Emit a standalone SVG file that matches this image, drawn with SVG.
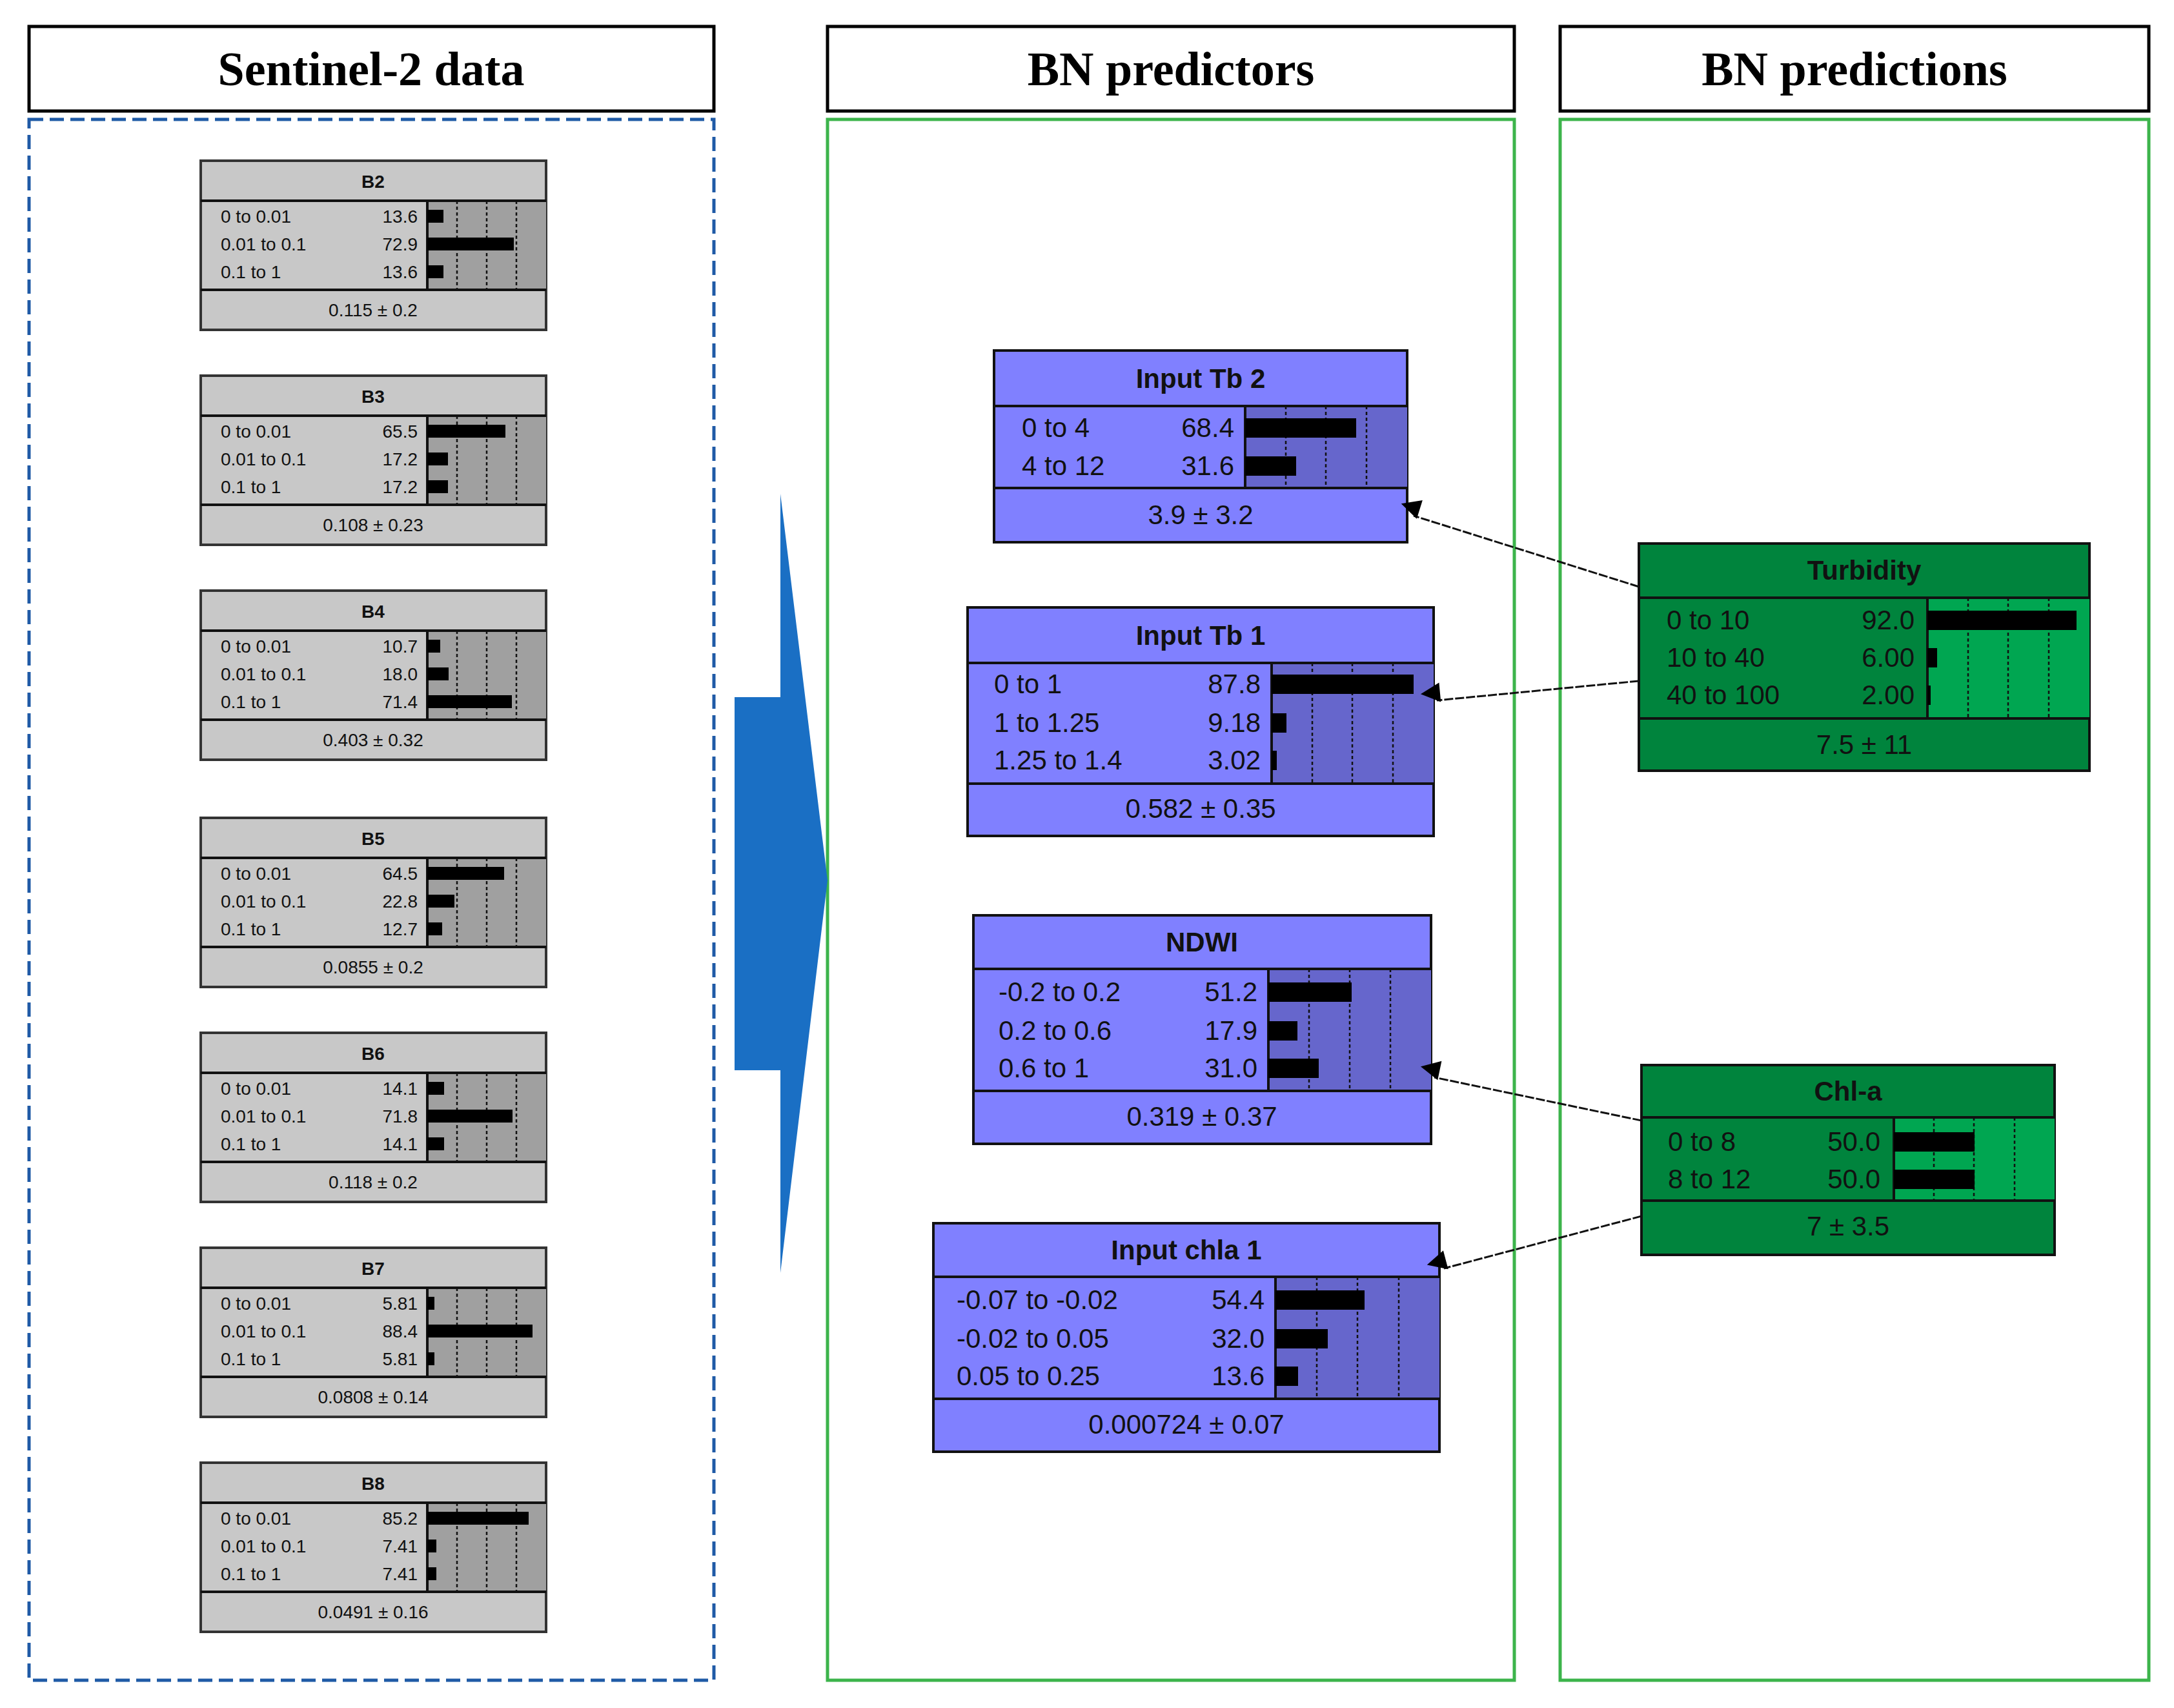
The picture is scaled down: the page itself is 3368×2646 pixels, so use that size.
<svg xmlns="http://www.w3.org/2000/svg" width="3368" height="2646" viewBox="0 0 3368 2646">
<defs>
<style>
.hdr{fill:#fff;stroke:#000;stroke-width:5}
.ht{font-family:"Liberation Serif",serif;font-weight:bold;font-size:74px;text-anchor:middle}
.g{fill:#c8c8c8;stroke:#333;stroke-width:4}
.gb{fill:#a0a0a0}
.p{fill:#8080ff;stroke:#111;stroke-width:4}
.pb{fill:#6666cc}
.gr{fill:#00843d;stroke:#111;stroke-width:4}
.grb{fill:#00a651}
.sep{stroke:#111;stroke-width:4}
.dl{stroke:#111;stroke-width:2.5;stroke-dasharray:5,4}
.t{font-family:"Liberation Sans",Arial,sans-serif;fill:#111}
.s{font-size:28px}
.m{font-size:42px}
.tb{font-weight:bold;text-anchor:middle}
.r{text-anchor:end}
.c{text-anchor:middle}
.bar{fill:#000}
.edge{stroke:#111;stroke-width:3;stroke-dasharray:14,3;fill:none;marker-end:url(#ah)}
</style>
<marker id="ah" viewBox="0 0 10 10" refX="10" refY="5" markerWidth="8" markerHeight="6" orient="auto" markerUnits="userSpaceOnUse" style="overflow:visible"><path d="M0,0 L10,5 L0,10 z" fill="#000" transform="scale(5)"/></marker>
</defs>
<rect width="3368" height="2646" fill="#fff"/>

<g id="headers">
<rect class="hdr" x="45" y="41" width="1061" height="131"/>
<text class="ht" x="575" y="132">Sentinel-2 data</text>
<rect class="hdr" x="1282" y="41" width="1064" height="131"/>
<text class="ht" x="1814" y="132">BN predictors</text>
<rect class="hdr" x="2417" y="41" width="912" height="131"/>
<text class="ht" x="2873" y="132">BN predictions</text>
</g>
<g id="panels">
<rect x="45" y="185" width="1061" height="2418" fill="none" stroke="#1f5aa6" stroke-width="5" stroke-dasharray="22,10"/>
<rect x="1282" y="185" width="1064" height="2418" fill="none" stroke="#3cb44b" stroke-width="5"/>
<rect x="2417" y="185" width="912" height="2418" fill="none" stroke="#3cb44b" stroke-width="5"/>
</g>
<g id="bigarrow"><polygon points="1138,1080 1209,1080 1209,765 1282,1364 1209,1972 1209,1658 1138,1658" fill="#1a6fc4"/></g>

<g id="B2" transform="translate(311,249)">
<rect class="g" width="535" height="262"/><rect class="gb" x="351" y="62" width="184" height="138"/>
<line class="dl" x1="397" y1="62" x2="397" y2="200"/><line class="dl" x1="443" y1="62" x2="443" y2="200"/><line class="dl" x1="489" y1="62" x2="489" y2="200"/>
<line class="sep" x1="0" y1="62" x2="535" y2="62"/><line class="sep" x1="0" y1="200" x2="535" y2="200"/><line class="sep" x1="351" y1="62" x2="351" y2="200"/>
<text class="t s tb" x="267" y="42">B2</text>
<text class="t s" x="31" y="96">0 to 0.01</text><text class="t s r" x="336" y="96">13.6</text><rect class="bar" x="351" y="76" width="25" height="20"/>
<text class="t s" x="31" y="139">0.01 to 0.1</text><text class="t s r" x="336" y="139">72.9</text><rect class="bar" x="351" y="119" width="134" height="20"/>
<text class="t s" x="31" y="182">0.1 to 1</text><text class="t s r" x="336" y="182">13.6</text><rect class="bar" x="351" y="162" width="25" height="20"/>
<text class="t s c" x="267" y="241">0.115 ± 0.2</text>
</g>
<g id="B3" transform="translate(311,582)">
<rect class="g" width="535" height="262"/><rect class="gb" x="351" y="62" width="184" height="138"/>
<line class="dl" x1="397" y1="62" x2="397" y2="200"/><line class="dl" x1="443" y1="62" x2="443" y2="200"/><line class="dl" x1="489" y1="62" x2="489" y2="200"/>
<line class="sep" x1="0" y1="62" x2="535" y2="62"/><line class="sep" x1="0" y1="200" x2="535" y2="200"/><line class="sep" x1="351" y1="62" x2="351" y2="200"/>
<text class="t s tb" x="267" y="42">B3</text>
<text class="t s" x="31" y="96">0 to 0.01</text><text class="t s r" x="336" y="96">65.5</text><rect class="bar" x="351" y="76" width="121" height="20"/>
<text class="t s" x="31" y="139">0.01 to 0.1</text><text class="t s r" x="336" y="139">17.2</text><rect class="bar" x="351" y="119" width="32" height="20"/>
<text class="t s" x="31" y="182">0.1 to 1</text><text class="t s r" x="336" y="182">17.2</text><rect class="bar" x="351" y="162" width="32" height="20"/>
<text class="t s c" x="267" y="241">0.108 ± 0.23</text>
</g>
<g id="B4" transform="translate(311,915)">
<rect class="g" width="535" height="262"/><rect class="gb" x="351" y="62" width="184" height="138"/>
<line class="dl" x1="397" y1="62" x2="397" y2="200"/><line class="dl" x1="443" y1="62" x2="443" y2="200"/><line class="dl" x1="489" y1="62" x2="489" y2="200"/>
<line class="sep" x1="0" y1="62" x2="535" y2="62"/><line class="sep" x1="0" y1="200" x2="535" y2="200"/><line class="sep" x1="351" y1="62" x2="351" y2="200"/>
<text class="t s tb" x="267" y="42">B4</text>
<text class="t s" x="31" y="96">0 to 0.01</text><text class="t s r" x="336" y="96">10.7</text><rect class="bar" x="351" y="76" width="20" height="20"/>
<text class="t s" x="31" y="139">0.01 to 0.1</text><text class="t s r" x="336" y="139">18.0</text><rect class="bar" x="351" y="119" width="33" height="20"/>
<text class="t s" x="31" y="182">0.1 to 1</text><text class="t s r" x="336" y="182">71.4</text><rect class="bar" x="351" y="162" width="131" height="20"/>
<text class="t s c" x="267" y="241">0.403 ± 0.32</text>
</g>
<g id="B5" transform="translate(311,1267)">
<rect class="g" width="535" height="262"/><rect class="gb" x="351" y="62" width="184" height="138"/>
<line class="dl" x1="397" y1="62" x2="397" y2="200"/><line class="dl" x1="443" y1="62" x2="443" y2="200"/><line class="dl" x1="489" y1="62" x2="489" y2="200"/>
<line class="sep" x1="0" y1="62" x2="535" y2="62"/><line class="sep" x1="0" y1="200" x2="535" y2="200"/><line class="sep" x1="351" y1="62" x2="351" y2="200"/>
<text class="t s tb" x="267" y="42">B5</text>
<text class="t s" x="31" y="96">0 to 0.01</text><text class="t s r" x="336" y="96">64.5</text><rect class="bar" x="351" y="76" width="119" height="20"/>
<text class="t s" x="31" y="139">0.01 to 0.1</text><text class="t s r" x="336" y="139">22.8</text><rect class="bar" x="351" y="119" width="42" height="20"/>
<text class="t s" x="31" y="182">0.1 to 1</text><text class="t s r" x="336" y="182">12.7</text><rect class="bar" x="351" y="162" width="23" height="20"/>
<text class="t s c" x="267" y="241">0.0855 ± 0.2</text>
</g>
<g id="B6" transform="translate(311,1600)">
<rect class="g" width="535" height="262"/><rect class="gb" x="351" y="62" width="184" height="138"/>
<line class="dl" x1="397" y1="62" x2="397" y2="200"/><line class="dl" x1="443" y1="62" x2="443" y2="200"/><line class="dl" x1="489" y1="62" x2="489" y2="200"/>
<line class="sep" x1="0" y1="62" x2="535" y2="62"/><line class="sep" x1="0" y1="200" x2="535" y2="200"/><line class="sep" x1="351" y1="62" x2="351" y2="200"/>
<text class="t s tb" x="267" y="42">B6</text>
<text class="t s" x="31" y="96">0 to 0.01</text><text class="t s r" x="336" y="96">14.1</text><rect class="bar" x="351" y="76" width="26" height="20"/>
<text class="t s" x="31" y="139">0.01 to 0.1</text><text class="t s r" x="336" y="139">71.8</text><rect class="bar" x="351" y="119" width="132" height="20"/>
<text class="t s" x="31" y="182">0.1 to 1</text><text class="t s r" x="336" y="182">14.1</text><rect class="bar" x="351" y="162" width="26" height="20"/>
<text class="t s c" x="267" y="241">0.118 ± 0.2</text>
</g>
<g id="B7" transform="translate(311,1933)">
<rect class="g" width="535" height="262"/><rect class="gb" x="351" y="62" width="184" height="138"/>
<line class="dl" x1="397" y1="62" x2="397" y2="200"/><line class="dl" x1="443" y1="62" x2="443" y2="200"/><line class="dl" x1="489" y1="62" x2="489" y2="200"/>
<line class="sep" x1="0" y1="62" x2="535" y2="62"/><line class="sep" x1="0" y1="200" x2="535" y2="200"/><line class="sep" x1="351" y1="62" x2="351" y2="200"/>
<text class="t s tb" x="267" y="42">B7</text>
<text class="t s" x="31" y="96">0 to 0.01</text><text class="t s r" x="336" y="96">5.81</text><rect class="bar" x="351" y="76" width="11" height="20"/>
<text class="t s" x="31" y="139">0.01 to 0.1</text><text class="t s r" x="336" y="139">88.4</text><rect class="bar" x="351" y="119" width="163" height="20"/>
<text class="t s" x="31" y="182">0.1 to 1</text><text class="t s r" x="336" y="182">5.81</text><rect class="bar" x="351" y="162" width="11" height="20"/>
<text class="t s c" x="267" y="241">0.0808 ± 0.14</text>
</g>
<g id="B8" transform="translate(311,2266)">
<rect class="g" width="535" height="262"/><rect class="gb" x="351" y="62" width="184" height="138"/>
<line class="dl" x1="397" y1="62" x2="397" y2="200"/><line class="dl" x1="443" y1="62" x2="443" y2="200"/><line class="dl" x1="489" y1="62" x2="489" y2="200"/>
<line class="sep" x1="0" y1="62" x2="535" y2="62"/><line class="sep" x1="0" y1="200" x2="535" y2="200"/><line class="sep" x1="351" y1="62" x2="351" y2="200"/>
<text class="t s tb" x="267" y="42">B8</text>
<text class="t s" x="31" y="96">0 to 0.01</text><text class="t s r" x="336" y="96">85.2</text><rect class="bar" x="351" y="76" width="157" height="20"/>
<text class="t s" x="31" y="139">0.01 to 0.1</text><text class="t s r" x="336" y="139">7.41</text><rect class="bar" x="351" y="119" width="14" height="20"/>
<text class="t s" x="31" y="182">0.1 to 1</text><text class="t s r" x="336" y="182">7.41</text><rect class="bar" x="351" y="162" width="14" height="20"/>
<text class="t s c" x="267" y="241">0.0491 ± 0.16</text>
</g>

<g id="InputTb2">
<rect class="p" x="1540" y="543" width="640" height="297"/><rect class="pb" x="1929" y="629" width="251" height="127"/>
<line class="dl" x1="1992" y1="629" x2="1992" y2="756"/><line class="dl" x1="2054" y1="629" x2="2054" y2="756"/><line class="dl" x1="2117" y1="629" x2="2117" y2="756"/>
<line class="sep" x1="1540" y1="629" x2="2180" y2="629"/><line class="sep" x1="1540" y1="756" x2="2180" y2="756"/><line class="sep" x1="1929" y1="629" x2="1929" y2="756"/>
<text class="t m tb" x="1860" y="601">Input Tb 2</text>
<text class="t m" x="1583" y="677">0 to 4</text><text class="t m r" x="1912" y="677">68.4</text><rect class="bar" x="1929" y="648" width="172" height="30"/>
<text class="t m" x="1583" y="736">4 to 12</text><text class="t m r" x="1912" y="736">31.6</text><rect class="bar" x="1929" y="707" width="79" height="30"/>
<text class="t m c" x="1860" y="812">3.9 ± 3.2</text>
</g>
<g id="InputTb1">
<rect class="p" x="1499" y="941" width="722" height="354"/><rect class="pb" x="1970" y="1027" width="251" height="187"/>
<line class="dl" x1="2033" y1="1027" x2="2033" y2="1214"/><line class="dl" x1="2095" y1="1027" x2="2095" y2="1214"/><line class="dl" x1="2158" y1="1027" x2="2158" y2="1214"/>
<line class="sep" x1="1499" y1="1027" x2="2221" y2="1027"/><line class="sep" x1="1499" y1="1214" x2="2221" y2="1214"/><line class="sep" x1="1970" y1="1027" x2="1970" y2="1214"/>
<text class="t m tb" x="1860" y="999">Input Tb 1</text>
<text class="t m" x="1540" y="1074">0 to 1</text><text class="t m r" x="1953" y="1074">87.8</text><rect class="bar" x="1970" y="1045" width="220" height="30"/>
<text class="t m" x="1540" y="1134">1 to 1.25</text><text class="t m r" x="1953" y="1134">9.18</text><rect class="bar" x="1970" y="1105" width="23" height="30"/>
<text class="t m" x="1540" y="1192">1.25 to 1.4</text><text class="t m r" x="1953" y="1192">3.02</text><rect class="bar" x="1970" y="1163" width="8" height="30"/>
<text class="t m c" x="1860" y="1267">0.582 ± 0.35</text>
</g>
<g id="NDWI">
<rect class="p" x="1508" y="1418" width="709" height="354"/><rect class="pb" x="1965" y="1501" width="252" height="189"/>
<line class="dl" x1="2028" y1="1501" x2="2028" y2="1690"/><line class="dl" x1="2091" y1="1501" x2="2091" y2="1690"/><line class="dl" x1="2154" y1="1501" x2="2154" y2="1690"/>
<line class="sep" x1="1508" y1="1501" x2="2217" y2="1501"/><line class="sep" x1="1508" y1="1690" x2="2217" y2="1690"/><line class="sep" x1="1965" y1="1501" x2="1965" y2="1690"/>
<text class="t m tb" x="1862" y="1474">NDWI</text>
<text class="t m" x="1547" y="1551">-0.2 to 0.2</text><text class="t m r" x="1948" y="1551">51.2</text><rect class="bar" x="1965" y="1522" width="129" height="30"/>
<text class="t m" x="1547" y="1611">0.2 to 0.6</text><text class="t m r" x="1948" y="1611">17.9</text><rect class="bar" x="1965" y="1582" width="45" height="30"/>
<text class="t m" x="1547" y="1669">0.6 to 1</text><text class="t m r" x="1948" y="1669">31.0</text><rect class="bar" x="1965" y="1640" width="78" height="30"/>
<text class="t m c" x="1862" y="1744">0.319 ± 0.37</text>
</g>
<g id="Inputchla1">
<rect class="p" x="1446" y="1895" width="784" height="354"/><rect class="pb" x="1976" y="1978" width="254" height="189"/>
<line class="dl" x1="2040" y1="1978" x2="2040" y2="2167"/><line class="dl" x1="2103" y1="1978" x2="2103" y2="2167"/><line class="dl" x1="2167" y1="1978" x2="2167" y2="2167"/>
<line class="sep" x1="1446" y1="1978" x2="2230" y2="1978"/><line class="sep" x1="1446" y1="2167" x2="2230" y2="2167"/><line class="sep" x1="1976" y1="1978" x2="1976" y2="2167"/>
<text class="t m tb" x="1838" y="1951">Input chla 1</text>
<text class="t m" x="1482" y="2028">-0.07 to -0.02</text><text class="t m r" x="1959" y="2028">54.4</text><rect class="bar" x="1976" y="1999" width="138" height="30"/>
<text class="t m" x="1482" y="2088">-0.02 to 0.05</text><text class="t m r" x="1959" y="2088">32.0</text><rect class="bar" x="1976" y="2059" width="81" height="30"/>
<text class="t m" x="1482" y="2146">0.05 to 0.25</text><text class="t m r" x="1959" y="2146">13.6</text><rect class="bar" x="1976" y="2117" width="35" height="30"/>
<text class="t m c" x="1838" y="2221">0.000724 ± 0.07</text>
</g>

<g id="Turbidity">
<rect class="gr" x="2539" y="842" width="698" height="352"/><rect class="grb" x="2986" y="926" width="251" height="187"/>
<line class="dl" x1="3049" y1="926" x2="3049" y2="1113"/><line class="dl" x1="3111" y1="926" x2="3111" y2="1113"/><line class="dl" x1="3174" y1="926" x2="3174" y2="1113"/>
<line class="sep" x1="2539" y1="926" x2="3237" y2="926"/><line class="sep" x1="2539" y1="1113" x2="3237" y2="1113"/><line class="sep" x1="2986" y1="926" x2="2986" y2="1113"/>
<text class="t m tb" x="2888" y="898">Turbidity</text>
<text class="t m" x="2582" y="975">0 to 10</text><text class="t m r" x="2966" y="975">92.0</text><rect class="bar" x="2986" y="946" width="231" height="30"/>
<text class="t m" x="2582" y="1033">10 to 40</text><text class="t m r" x="2966" y="1033">6.00</text><rect class="bar" x="2986" y="1004" width="15" height="30"/>
<text class="t m" x="2582" y="1091">40 to 100</text><text class="t m r" x="2966" y="1091">2.00</text><rect class="bar" x="2986" y="1062" width="5" height="30"/>
<text class="t m c" x="2888" y="1168">7.5 ± 11</text>
</g>
<g id="Chla">
<rect class="gr" x="2543" y="1650" width="640" height="294"/><rect class="grb" x="2934" y="1731" width="249" height="129"/>
<line class="dl" x1="2996" y1="1731" x2="2996" y2="1860"/><line class="dl" x1="3058" y1="1731" x2="3058" y2="1860"/><line class="dl" x1="3121" y1="1731" x2="3121" y2="1860"/>
<line class="sep" x1="2543" y1="1731" x2="3183" y2="1731"/><line class="sep" x1="2543" y1="1860" x2="3183" y2="1860"/><line class="sep" x1="2934" y1="1731" x2="2934" y2="1860"/>
<text class="t m tb" x="2863" y="1705">Chl-a</text>
<text class="t m" x="2584" y="1783">0 to 8</text><text class="t m r" x="2913" y="1783">50.0</text><rect class="bar" x="2934" y="1754" width="125" height="30"/>
<text class="t m" x="2584" y="1841">8 to 12</text><text class="t m r" x="2913" y="1841">50.0</text><rect class="bar" x="2934" y="1812" width="125" height="30"/>
<text class="t m c" x="2863" y="1914">7 ± 3.5</text>
</g>

<g id="connectors">
<line class="edge" x1="2539" y1="909" x2="2190" y2="799"/>
<line class="edge" x1="2539" y1="1055" x2="2226" y2="1085"/>
<line class="edge" x1="2543" y1="1736" x2="2222" y2="1669"/>
<line class="edge" x1="2543" y1="1884" x2="2237" y2="1965"/>
</g>
</svg>
